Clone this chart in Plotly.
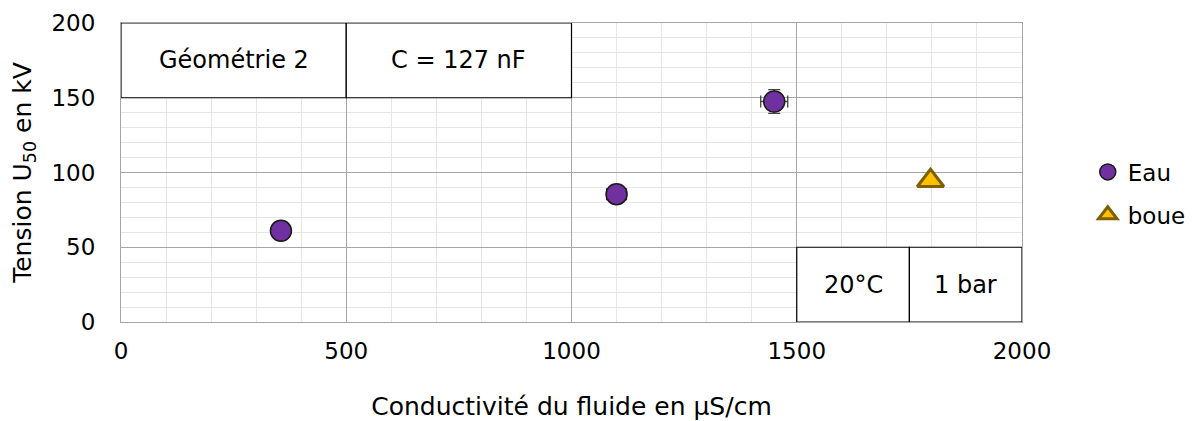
import plotly.graph_objects as go

eau_x = [355, 1100, 1450]
eau_y = [61, 85.5, 147.5]
eau_xerr = [0, 22, 30]
eau_yerr = [0, 0, 8]
boue_x = [1797]
boue_y = [94.5]

boxes = [
    (0, 500, 150, 200, "Géométrie 2"),
    (500, 1000, 150, 200, "C = 127 nF"),
    (1500, 1750, 0, 50, "20°C"),
    (1750, 2000, 0, 50, "1 bar"),
]

FONT = "DejaVu Sans"
FS = 23
fig = go.Figure()
fig.add_trace(go.Scatter(
    x=eau_x, y=eau_y, mode="markers", name="Eau", legendgroup="a",
    marker=dict(symbol="circle", size=21, color="#7030A0", line=dict(color="#1a1a1a", width=1.5)),
    error_x=dict(type="data", array=eau_xerr, color="#404040", thickness=1.3, width=6),
    error_y=dict(type="data", array=eau_yerr, color="#404040", thickness=1.3, width=6),
))
fig.add_trace(go.Scatter(
    x=boue_x, y=boue_y, mode="markers", name="boue", legendgroup="b",
    marker=dict(symbol="triangle-up", size=23, color="#FFC000", line=dict(color="#7F6000", width=3)),
))

for x0, x1, y0, y1, txt in boxes:
    fig.add_shape(type="rect", x0=x0, x1=x1, y0=y0, y1=y1, xref="x", yref="y",
                  fillcolor="white", line=dict(color="black", width=1.2), layer="above")
    fig.add_annotation(x=(x0 + x1) / 2, y=(y0 + y1) / 2, text=txt, showarrow=False,
                       xref="x", yref="y", font=dict(family=FONT, size=24, color="black"))

axis_common = dict(
    showgrid=True, gridcolor="#a6a6a6", gridwidth=1, automargin=False,
    zeroline=False, showline=True, linecolor="#a6a6a6", linewidth=1, mirror=True,
    ticks="", tickfont=dict(family=FONT, size=FS, color="black"),
)
fig.update_xaxes(range=[0, 2000], dtick=500, tick0=0,
                 minor=dict(dtick=100, showgrid=True, gridcolor="#e6e6e6", gridwidth=1),
                 title=dict(text="Conductivité du fluide en µS/cm", font=dict(family=FONT, size=25, color="black"), standoff=35),
                 ticklabelstandoff=8,
                 **axis_common)
fig.update_yaxes(range=[0, 200], dtick=50, tick0=0,
                 minor=dict(dtick=10, showgrid=True, gridcolor="#e6e6e6", gridwidth=1),
                 title=dict(text="Tension U<sub>50</sub> en kV", font=dict(family=FONT, size=25, color="black"), standoff=14),
                 ticklabelstandoff=20,
                 **axis_common)

fig.update_layout(
    width=1199, height=413,
    margin=dict(l=113, r=185, t=15, b=99),
    plot_bgcolor="white", paper_bgcolor="white",
    font=dict(family=FONT, size=FS, color="black"),
    showlegend=True,
    legend=dict(x=1.073, y=0.43, xanchor="left", yanchor="middle",
                font=dict(family=FONT, size=FS, color="black"),
                tracegroupgap=10, itemsizing="trace", bgcolor="rgba(0,0,0,0)"),
)

fig.write_html("out.html")
